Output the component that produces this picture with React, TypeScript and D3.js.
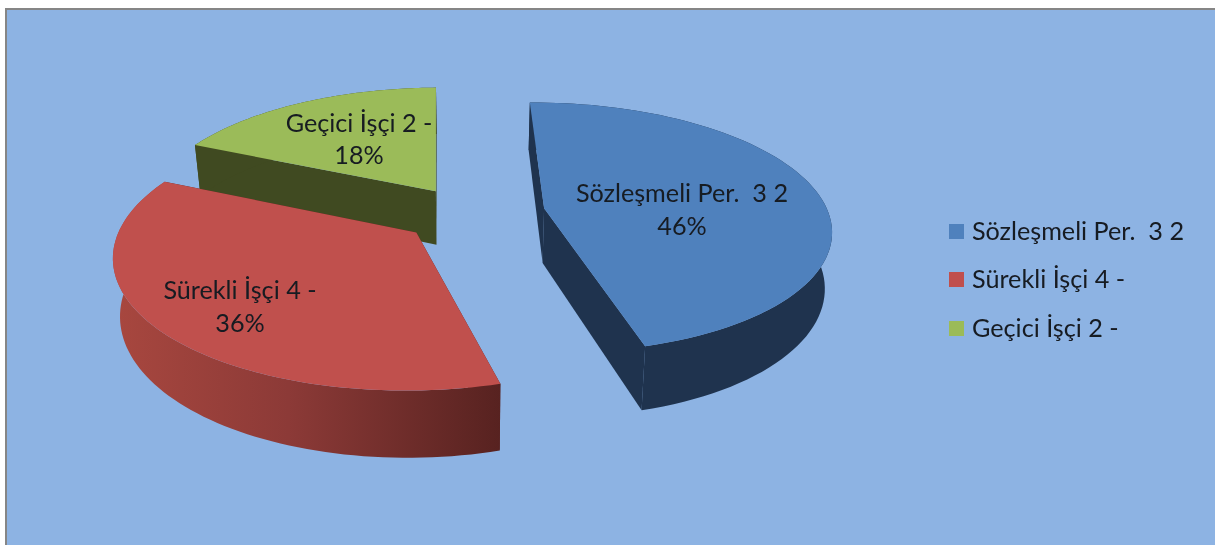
import React from "react";
import * as d3 from "d3";

const categories = ["Sözleşmeli Per.  3 2", "Sürekli İşçi 4 -", "Geçici İşçi 2 -"];
const values = [46, 36, 18];
const percentLabels = ["46%", "36%", "18%"];
const explosions = [0.265, 0.235, 0.215];
const radiusScale = [0.987, 1.01, 1.01];
const topColors = ["#4f81bd", "#c0504d", "#9bbb59"];
const wallColors = ["#1f334e", "url(#redWall)", "#404a21"];
const labelLines = [
  { x: 682, y1: 202, y2: 235 },
  { x: 240, y1: 299, y2: 332 },
  { x: 359, y1: 132, y2: 164 },
];
const legendY = [231, 279, 328];

const W = 1215, H = 545;
const cx = 469, cy = 213, A = 288, B = 125, P = 0.156, DEPTH = 55, SHRINK = 0.02;
const ROTATE = (-1 * Math.PI) / 180;
const FONT = "Lato, 'Open Sans', sans-serif";
const FS = 25.2;

type Pt = [number, number];
const project = (X: number, Y: number, low: boolean): Pt => {
  const s = 1 / (1 + P * Y);
  const x = cx + A * X * s;
  const y = cy - B * Y * s;
  return low ? [cx + (x - cx) * (1 - SHRINK), y + DEPTH * s] : [x, y];
};

const line = d3.line<Pt>();
const arcs = d3.pie<number>().sort(null).startAngle(ROTATE).endAngle(2 * Math.PI + ROTATE)(values);

function geometry(i: number) {
  const a = arcs[i];
  const m = (a.startAngle + a.endAngle) / 2;
  const e = explosions[i];
  const r = radiusScale[i];
  const ox = e * Math.sin(m), oy = e * Math.cos(m);
  const angles = d3.range(0, 81).map((k) => a.startAngle + ((a.endAngle - a.startAngle) * k) / 80);
  const rim = (low: boolean) => angles.map((t) => project(ox + r * Math.sin(t), oy + r * Math.cos(t), low));
  const apex = (low: boolean) => project(ox, oy, low);
  return { rim, apex };
}

export default function App() {
  const order = [2, 0, 1];
  return (
    <svg width={W} height={H} viewBox={`0 0 ${W} ${H}`} style={{ position: "fixed", left: 0, top: 0, display: "block" }}>
      <defs>
        <linearGradient id="redWall" gradientUnits="userSpaceOnUse" x1={114} x2={502} y1={0} y2={0}>
          <stop offset="0" stopColor="#a8473f" />
          <stop offset="0.45" stopColor="#8c3a37" />
          <stop offset="1" stopColor="#572220" />
        </linearGradient>
        <filter id="soft" x="-5%" y="-5%" width="110%" height="110%">
          <feGaussianBlur stdDeviation="0.45" />
        </filter>
      </defs>
      <rect width={W} height={H} fill="#ffffff" />
      <rect x={5} y={8} width={W - 5} height={H - 8} fill="#868686" />
      <rect x={7} y={10} width={W - 7} height={H - 10} fill="#8db3e3" />
      {order.map((i) => {
        const g = geometry(i);
        const top = g.rim(false);
        const low = g.rim(true);
        const ta = g.apex(false);
        const la = g.apex(true);
        const wall = wallColors[i];
        return (
          <g key={i}>
            <path d={line([ta, top[0], low[0], la])! + "Z"} fill={i === 1 ? "#572220" : wall} />
            <path d={line([ta, top[top.length - 1], low[low.length - 1], la])! + "Z"} fill={i === 1 ? "#572220" : wall} />
            <path d={line([...top, ...low.slice().reverse()])! + "Z"} fill={wall} />
            <path d={line([ta, ...top])! + "Z"} fill={topColors[i]} />
          </g>
        );
      })}
      <g filter="url(#soft)" fontFamily={FONT} fontSize={FS} fill="#161a20">
        {categories.map((c, i) => (
          <g key={c} textAnchor="middle">
            <text x={labelLines[i].x} y={labelLines[i].y1} style={{ whiteSpace: "pre" }}>{c}</text>
            <text x={labelLines[i].x} y={labelLines[i].y2}>{percentLabels[i]}</text>
          </g>
        ))}
        {categories.map((c, i) => (
          <g key={c}>
            <rect x={949} y={legendY[i] - 7} width={15} height={15} fill={topColors[i]} />
            <text x={972} y={legendY[i] + 9} style={{ whiteSpace: "pre" }}>{c}</text>
          </g>
        ))}
      </g>
    </svg>
  );
}
